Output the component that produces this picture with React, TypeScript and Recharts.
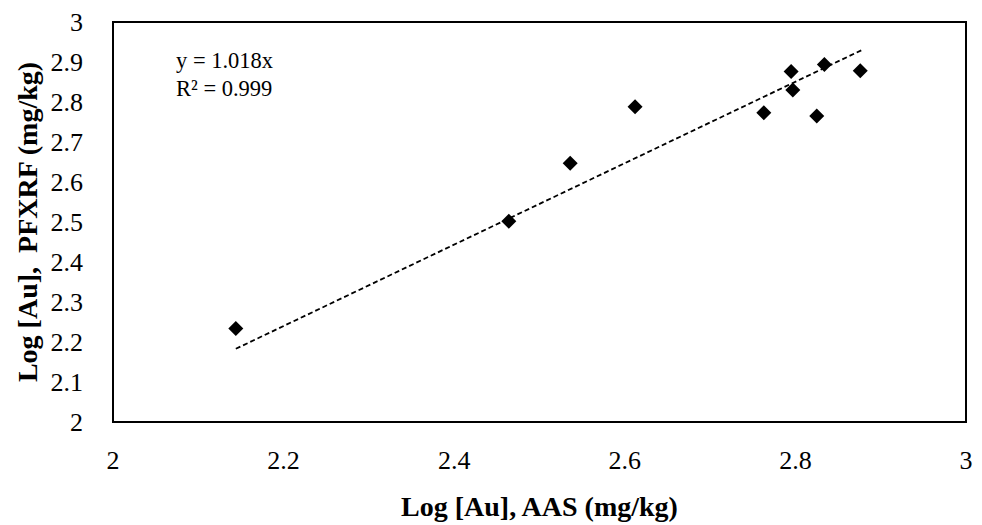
import { ScatterChart, Scatter, XAxis, YAxis, ReferenceArea } from 'recharts'

// log concentrations
const aasLog = [2.144, 2.464, 2.536, 2.612, 2.763, 2.795, 2.797, 2.825, 2.834, 2.876]
const pfxrfLog = [2.234, 2.502, 2.647, 2.788, 2.773, 2.876, 2.83, 2.765, 2.894, 2.878]

// trendline endpoints (y = 1.018x, from min to max x)
const trendX = [2.144, 2.878]
const trendY = [2.183, 2.93]

const xTicks = [2, 2.2, 2.4, 2.6, 2.8, 3]
const yTicks = [2, 2.1, 2.2, 2.3, 2.4, 2.5, 2.6, 2.7, 2.8, 2.9, 3]

const equation = 'y = 1.018x'
const rSquared = 'R² = 0.999'

const FONT = '"Liberation Serif", "DejaVu Serif", serif'

const points = aasLog.map((x, i) => ({ x, y: pfxrfLog[i] }))
const trend = trendX.map((x, i) => ({ x, y: trendY[i] }))

const Diamond = (props: any) => {
  const { cx, cy } = props
  const r = 7.5
  return <polygon points={`${cx},${cy - r} ${cx + r},${cy} ${cx},${cy + r} ${cx - r},${cy}`} fill="#000" />
}

const Tick = (props: any) => {
  const { x, y, payload, textAnchor } = props
  const dy = textAnchor === 'middle' ? '0.71em' : '0.355em'
  return (
    <text x={x} y={y} dy={dy} textAnchor={textAnchor} style={{ fontSize: 26, fill: '#000', fontFamily: FONT }}>
      {String(payload.value)}
    </text>
  )
}

const YTitle = (props: any) => {
  const vb = props.viewBox || { x: 0, y: 0, width: 0, height: 0 }
  const x = 27
  const y = vb.y + vb.height / 2
  return (
    <text
      x={x}
      y={y}
      transform={`rotate(-90 ${x} ${y})`}
      textAnchor="middle"
      dominantBaseline="central"
      style={{ fontSize: 28, fontWeight: 'bold', fill: '#000', fontFamily: FONT, whiteSpace: 'pre' }}
    >
      {'Log [Au],  PFXRF (mg/kg)'}
    </text>
  )
}

export default function App() {
  return (
    <div
      style={{
        position: 'absolute',
        left: 0,
        top: 0,
        width: 982,
        height: 525,
        background: '#fff',
        fontFamily: FONT,
      }}
    >
      <ScatterChart
        width={982}
        height={525}
        margin={{ top: 22, right: 16, bottom: 0, left: 0 }}
        style={{ fontFamily: FONT }}
      >
        <XAxis
          type="number"
          dataKey="x"
          domain={[2, 3]}
          ticks={xTicks}
          height={103}
          axisLine={false}
          tickLine={false}
          tickSize={0}
          tickMargin={29}
          tick={<Tick />}
          label={{
            value: 'Log [Au], AAS (mg/kg)',
            position: 'insideBottom',
            offset: 9,
            style: { fontSize: 28, fontWeight: 'bold', fill: '#000', fontFamily: FONT },
          }}
        />
        <YAxis
          type="number"
          dataKey="y"
          domain={[2, 3]}
          ticks={yTicks}
          width={113}
          axisLine={false}
          tickLine={false}
          tickSize={0}
          tickMargin={30}
          tick={<Tick />}
          label={<YTitle />}
        />
        <ReferenceArea x1={2} x2={3} y1={2} y2={3} fill="none" fillOpacity={0} stroke="#000" strokeWidth={2} />
        <Scatter
          data={trend}
          line={{ stroke: '#000', strokeWidth: 1.8, strokeDasharray: '5 3' }}
          shape={() => <g />}
          isAnimationActive={false}
        />
        <Scatter data={points} shape={Diamond} isAnimationActive={false} />
      </ScatterChart>
      <div
        style={{
          position: 'absolute',
          left: 176,
          top: 47,
          fontFamily: FONT,
          fontSize: 22.5,
          lineHeight: '28px',
          color: '#000',
        }}
      >
        <div>{equation}</div>
        <div>{rSquared}</div>
      </div>
    </div>
  )
}
